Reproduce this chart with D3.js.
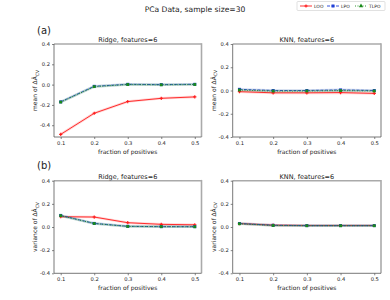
<!DOCTYPE html>
<html>
<head>
<meta charset="utf-8">
<script src="https://cdn.jsdelivr.net/npm/d3@7"></script>
<style>
  body { margin: 0; background: #fff; }
  text { font-family: "DejaVu Sans", sans-serif; fill: #222; }
</style>
</head>
<body>
<svg id="chart" width="390" height="300"></svg>
<script>
// x values and series
const fractions = [0.1, 0.2, 0.3, 0.4, 0.5];
const seriesNames = ["LOO", "LPO", "TLPO"];

const ridgeMeanLOO  = [-0.49, -0.282, -0.167, -0.135, -0.121];
const ridgeMeanLPO  = [-0.17, -0.017, 0.003, 0.0, 0.003];
const ridgeMeanTLPO = [-0.172, -0.02, 0.001, -0.002, 0.001];

const knnMeanLOO  = [-0.01, -0.02, -0.02, -0.018, -0.025];
const knnMeanLPO  = [0.01, 0.0, 0.0, 0.005, 0.0];
const knnMeanTLPO = [0.004, -0.005, -0.004, -0.001, -0.004];

const ridgeVarLOO  = [0.089, 0.086, 0.037, 0.023, 0.019];
const ridgeVarLPO  = [0.1, 0.031, 0.006, 0.003, 0.003];
const ridgeVarTLPO = [0.098, 0.03, 0.005, 0.003, 0.002];

const knnVarLOO  = [0.03, 0.016, 0.013, 0.013, 0.013];
const knnVarLPO  = [0.03, 0.015, 0.012, 0.012, 0.012];
const knnVarTLPO = [0.028, 0.013, 0.011, 0.011, 0.011];

const yTicks = [-0.4, -0.2, 0.0, 0.2, 0.4];

const styles = {
  LOO:  { color: "#ff1a1a", dash: null, marker: "plus" },
  LPO:  { color: "#1f3fd6", dash: "3,1.5", marker: "square" },
  TLPO: { color: "#1a8a1a", dash: "1,1.5", marker: "triangle" }
};

const svg = d3.select("#chart");

// title + panel letters
svg.append("text").attr("x", 195).attr("y", 12).attr("text-anchor", "middle")
  .style("font-size", "7.6px").text("PCa Data, sample size=30");
svg.append("text").attr("x", 37).attr("y", 34).style("font-size", "10px").text("(a)");
svg.append("text").attr("x", 37).attr("y", 169).style("font-size", "10px").text("(b)");

const panels = [
  { x0: 54, x1: 201.5, y0: 44, y1: 137, yDom: [-0.516, 0.4], title: "Ridge, features=6", ylab: "mean of",
    data: [ridgeMeanLOO, ridgeMeanLPO, ridgeMeanTLPO] },
  { x0: 232.7, x1: 381, y0: 44, y1: 137, yDom: [-0.4, 0.4], title: "KNN, features=6", ylab: "mean of",
    data: [knnMeanLOO, knnMeanLPO, knnMeanTLPO] },
  { x0: 54, x1: 201.5, y0: 180.7, y1: 273.3, yDom: [-0.4, 0.4], title: "Ridge, features=6", ylab: "variance of",
    data: [ridgeVarLOO, ridgeVarLPO, ridgeVarTLPO] },
  { x0: 232.7, x1: 381, y0: 180.7, y1: 273.3, yDom: [-0.4, 0.4], title: "KNN, features=6", ylab: "variance of",
    data: [knnVarLOO, knnVarLPO, knnVarTLPO] }
];

function drawMarker(g, type, x, y, color) {
  if (type === "plus") {
    g.append("path").attr("d", `M${x - 1.6},${y}H${x + 1.6}M${x},${y - 1.6}V${y + 1.6}`)
      .attr("stroke", color).attr("stroke-width", 1.1);
  } else if (type === "square") {
    g.append("rect").attr("x", x - 1.5).attr("y", y - 1.5).attr("width", 3).attr("height", 3)
      .attr("fill", color);
  } else {
    g.append("path").attr("d", d3.symbol(d3.symbolSquare, 8)())
      .attr("transform", `translate(${x},${y})`).attr("fill", color);
  }
}

panels.forEach(p => {
  const x = d3.scaleLinear().domain([0.08, 0.52]).range([p.x0, p.x1]);
  const y = d3.scaleLinear().domain(p.yDom).range([p.y1, p.y0]);
  const g = svg.append("g");

  // axes
  const xAxis = g.append("g").attr("transform", `translate(0,${p.y1})`)
    .call(d3.axisBottom(x).tickValues(fractions).tickFormat(d3.format(".1f")).tickSize(2).tickPadding(2));
  const yAxis = g.append("g").attr("transform", `translate(${p.x0},0)`)
    .call(d3.axisLeft(y).tickValues(yTicks).tickFormat(d3.format(".1f")).tickSize(2).tickPadding(2));
  [xAxis, yAxis].forEach(a => {
    a.select(".domain").remove();
    a.selectAll("line").attr("stroke", "#333").attr("stroke-width", 0.6);
    a.selectAll("text").style("font-size", "5.2px").style("font-family", "DejaVu Sans").attr("fill", "#222");
  });
  yAxis.selectAll("text").text(d => d === 0 ? "0.0" : d3.format(".1f")(d).replace("−", "-"));

  // lines
  const line = d3.line().x((d, i) => x(fractions[i])).y(d => y(d));
  p.data.forEach((vals, k) => {
    const s = styles[seriesNames[k]];
    // faint wide underlay
    g.append("path").datum(vals).attr("d", line).attr("fill", "none")
      .attr("stroke", s.color).attr("stroke-opacity", 0.18).attr("stroke-width", 2.6);
    g.append("path").datum(vals).attr("d", line).attr("fill", "none")
      .attr("stroke", s.color).attr("stroke-width", 0.9)
      .attr("stroke-dasharray", s.dash);
  });
  p.data.forEach((vals, k) => {
    const s = styles[seriesNames[k]];
    vals.forEach((v, i) => drawMarker(g, s.marker, x(fractions[i]), y(v), s.color));
  });

  // frame
  g.append("line").attr("x1", p.x0).attr("x2", p.x1).attr("y1", p.y0).attr("y2", p.y0)
    .attr("stroke", "#aaa").attr("stroke-width", 1.6);
  g.append("line").attr("x1", p.x1).attr("x2", p.x1).attr("y1", p.y0 - 0.8).attr("y2", p.y1)
    .attr("stroke", "#aaa").attr("stroke-width", 1.6);
  g.append("line").attr("x1", p.x0).attr("x2", p.x0).attr("y1", p.y0).attr("y2", p.y1)
    .attr("stroke", "#555").attr("stroke-width", 0.8);
  g.append("line").attr("x1", p.x0).attr("x2", p.x1).attr("y1", p.y1).attr("y2", p.y1)
    .attr("stroke", "#555").attr("stroke-width", 0.8);

  // labels
  g.append("text").attr("x", (p.x0 + p.x1) / 2).attr("y", p.y0 - 2).attr("text-anchor", "middle")
    .style("font-size", "6.5px").text(p.title);
  g.append("text").attr("x", (p.x0 + p.x1) / 2).attr("y", p.y1 + 17).attr("text-anchor", "middle")
    .style("font-size", "6px").text("fraction of positives");
  const yl = g.append("text")
    .attr("transform", `translate(${p.x0 - 17},${(p.y0 + p.y1) / 2}) rotate(-90)`)
    .attr("text-anchor", "middle").style("font-size", "6px");
  yl.append("tspan").text(p.ylab + " ΔÂ");
  yl.append("tspan").attr("dy", 1.5).style("font-size", "4.5px").text("CV");
});

// legend
const lg = svg.append("g");
lg.append("rect").attr("x", 297).attr("y", 1.5).attr("width", 88).attr("height", 9)
  .attr("fill", "#fff").attr("stroke", "#ccc").attr("stroke-width", 0.6).attr("rx", 1);
const legendX = [300, 327, 355];
seriesNames.forEach((name, k) => {
  const s = styles[name];
  const lx = legendX[k];
  lg.append("line").attr("x1", lx).attr("x2", lx + 12).attr("y1", 6).attr("y2", 6)
    .attr("stroke", s.color).attr("stroke-width", 0.9).attr("stroke-dasharray", s.dash);
  if (s.marker === "triangle") {
    lg.append("path").attr("d", d3.symbol(d3.symbolTriangle, 8)())
      .attr("transform", `translate(${lx + 6},6)`).attr("fill", s.color);
  } else {
    drawMarker(lg, s.marker, lx + 6, 6, s.color);
  }
  lg.append("text").attr("x", lx + 14).attr("y", 7.7).style("font-size", "4.5px").text(name);
});
</script>
</body>
</html>
